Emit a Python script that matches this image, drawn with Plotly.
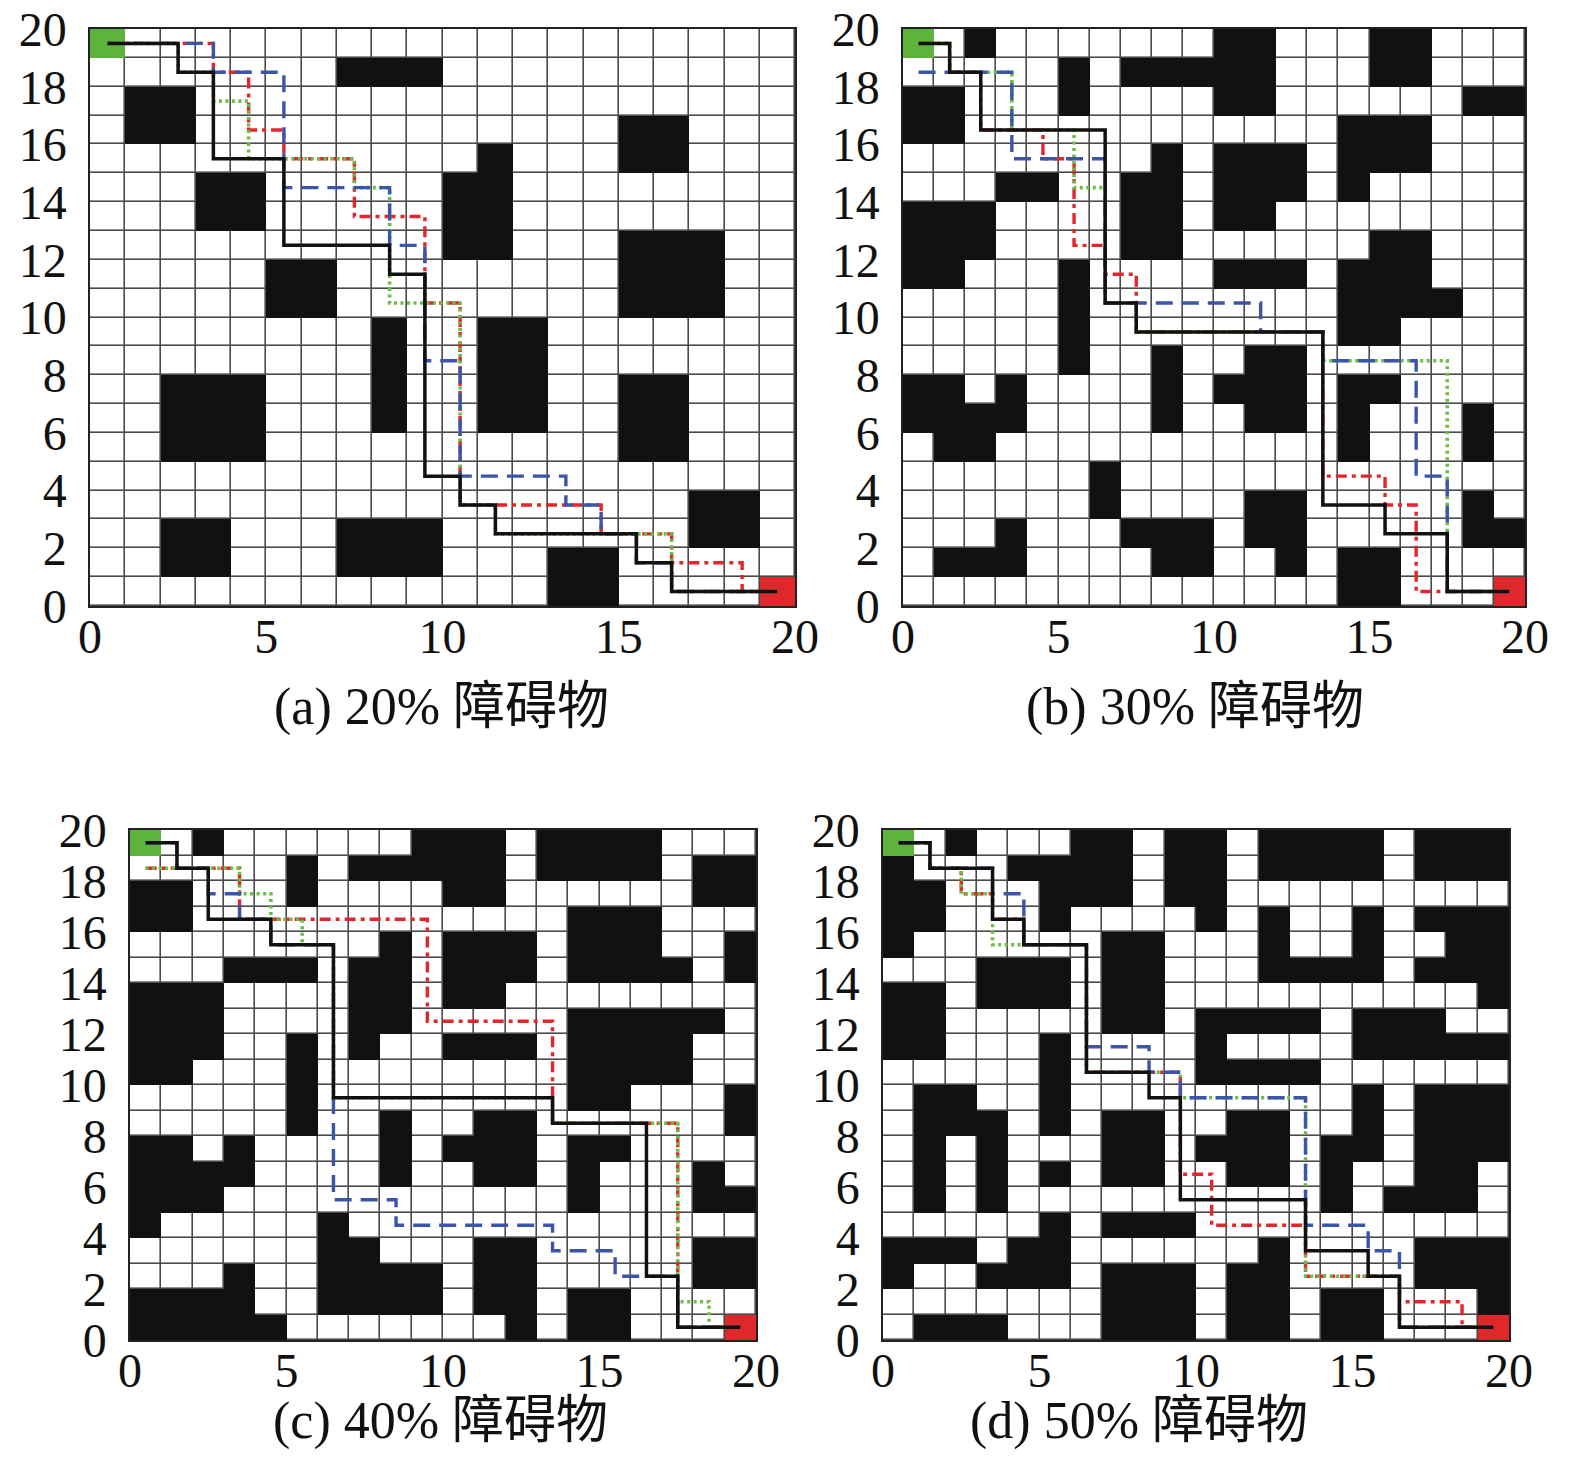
import plotly.graph_objects as go

# ---------------- data ----------------
# obstacle maps, top row (y = 19) first; '#' obstacle, 'S' start, 'G' goal
map_a = [
    "S...................",
    ".......###..........",
    ".##.................",
    ".##............##...",
    "...........#...##...",
    "...##.....##........",
    "...##.....##........",
    "..........##...###..",
    ".....##........###..",
    ".....##........###..",
    "........#..##.......",
    "........#..##.......",
    "..###...#..##..##...",
    "..###...#..##..##...",
    "..###..........##...",
    "....................",
    ".................##.",
    "..##...###.......##.",
    "..##...###...##.....",
    ".............##....G",
]
map_b = [
    "S.#.......##...##...",
    ".....#.#####...##...",
    "##...#....##......##",
    "##............###...",
    "........#.###.###...",
    "...##..##.###.#.....",
    "###....##.##........",
    "###....##......##...",
    "##...#....###.###...",
    ".....#........####..",
    ".....#........##....",
    ".....#..#..##.......",
    "##.#....#.###.##....",
    "####....#..##.#...#.",
    ".##...........#...#.",
    "......#.............",
    "......#....##.....#.",
    "...#...###.##.....##",
    ".###....##..#.##....",
    "..............##...G",
]
map_c = [
    "S.#......###.####...",
    ".....#.#####.####.##",
    "##...#....##......##",
    "##............###...",
    "........#.###.###..#",
    "...###.##.###.####.#",
    "###....##.##........",
    "###....##.....#####.",
    "###..#.#..###.####..",
    "##...#........####..",
    ".....#........##...#",
    ".....#..#..##......#",
    "##.#....#.###.##....",
    "####....#..##.#...#.",
    "###...........#...##",
    "#.....#.............",
    "......##...##.....##",
    "...#..####.##.....##",
    "####..####.##.##....",
    "#####.......#.##...G",
]
map_d = [
    "S.#...##.##.####.###",
    "#...####.##.####.###",
    "##...###.##.........",
    "##...#....#.#..#.###",
    "#......##...#..#..##",
    "...###.##...####.###",
    "##.###.##..........#",
    "##.....##.####.###..",
    "##...#....#....#####",
    ".....#....####......",
    ".##..#.........#.###",
    ".###.#.##..##..#.###",
    ".#.#...##.###.##.###",
    ".#.#.#.##..##.#..##.",
    ".#.#..........#.###.",
    ".....#.###..........",
    "###.##......#....###",
    "#..###.###.##....###",
    ".......###.##.##...#",
    ".###...###.##.##...G",
]

# path waypoints as (column, row) cell indices
black_a = [(0,19),(2,19),(2,18),(3,18),(3,15),(5,15),(5,12),(8,12),(8,11),(9,11),(9,4),(10,4),(10,3),(11,3),(11,2),(15,2),(15,1),(16,1),(16,0),(19,0)]
blue_a  = [(0,19),(3,19),(3,18),(5,18),(5,14),(8,14),(8,12),(9,12),(9,8),(10,8),(10,4),(13,4),(13,3),(14,3),(14,2),(15,2),(15,1),(16,1),(16,0),(19,0)]
red_a   = [(0,19),(3,19),(3,18),(4,18),(4,16),(5,16),(5,15),(7,15),(7,13),(9,13),(9,10),(10,10),(10,3),(14,3),(14,2),(16,2),(16,1),(18,1),(18,0),(19,0)]
green_a = [(0,19),(2,19),(2,18),(3,18),(3,17),(4,17),(4,15),(7,15),(7,14),(8,14),(8,10),(10,10),(10,3),(11,3),(11,2),(16,2),(16,0),(19,0)]

black_b = [(0,19),(1,19),(1,18),(2,18),(2,16),(6,16),(6,10),(7,10),(7,9),(13,9),(13,3),(15,3),(15,2),(17,2),(17,0),(19,0)]
blue_b  = [(0,18),(3,18),(3,15),(6,15),(6,10),(11,10),(11,9),(13,9),(13,8),(16,8),(16,4),(17,4),(17,0),(19,0)]
red_b   = [(0,19),(1,19),(1,18),(2,18),(2,16),(4,16),(4,15),(5,15),(5,12),(6,12),(6,11),(7,11),(7,9),(13,9),(13,4),(15,4),(15,3),(16,3),(16,0),(19,0)]
green_b = [(0,19),(1,19),(1,18),(3,18),(3,16),(5,16),(5,14),(6,14),(6,10),(7,10),(7,9),(13,9),(13,8),(17,8),(17,0),(19,0)]

black_c = [(0,19),(1,19),(1,18),(2,18),(2,16),(4,16),(4,15),(6,15),(6,9),(13,9),(13,8),(16,8),(16,2),(17,2),(17,0),(19,0)]
blue_c  = [(0,19),(1,19),(1,18),(2,18),(2,17),(3,17),(3,16),(4,16),(4,15),(6,15),(6,5),(8,5),(8,4),(13,4),(13,3),(15,3),(15,2),(17,2),(17,0),(19,0)]
red_c   = [(0,18),(3,18),(3,16),(9,16),(9,12),(13,12),(13,8),(17,8),(17,0),(19,0)]
green_c = [(0,18),(3,18),(3,17),(4,17),(4,16),(5,16),(5,15),(6,15),(6,9),(13,9),(13,8),(17,8),(17,1),(18,1),(18,0),(19,0)]

black_d = [(0,19),(1,19),(1,18),(3,18),(3,16),(4,16),(4,15),(6,15),(6,10),(8,10),(8,9),(9,9),(9,5),(13,5),(13,3),(15,3),(15,2),(16,2),(16,0),(19,0)]
blue_d  = [(0,19),(1,19),(1,18),(3,18),(3,17),(4,17),(4,15),(6,15),(6,11),(8,11),(8,10),(9,10),(9,9),(13,9),(13,4),(15,4),(15,3),(16,3),(16,0),(19,0)]
red_d   = [(0,19),(1,19),(1,18),(2,18),(2,17),(3,17),(3,16),(4,16),(4,15),(6,15),(6,10),(9,10),(9,6),(10,6),(10,4),(13,4),(13,2),(16,2),(16,1),(18,1),(18,0),(19,0)]
green_d = [(0,19),(1,19),(1,18),(2,18),(2,17),(3,17),(3,15),(4,15),(6,15),(6,10),(9,10),(9,9),(13,9),(13,2),(16,2),(16,0),(19,0)]

captions = ["(a) 20% 障碍物", "(b) 30% 障碍物", "(c) 40% 障碍物", "(d) 50% 障碍物"]
x_ticks = [0, 5, 10, 15, 20]
y_ticks = [0, 2, 4, 6, 8, 10, 12, 14, 16, 18, 20]

# ---------------- styling ----------------
W, H = 1575, 1464
BLACK = "#111111"
GREEN_CELL = "#5db33b"
RED_CELL = "#e0282c"
BLUE = "#3b55a8"
RED = "#e2262b"
GREEN = "#6cbd45"
GRIDC = "#4a4a4a"
FONT = "'Liberation Serif', 'Times New Roman', 'Noto Sans CJK SC', serif"

# pixel boxes of each panel: (left, right, top, bottom)
boxes = [(90, 795, 29, 606), (903, 1525, 29, 606), (130, 756, 830, 1340), (883, 1509, 830, 1340)]
cap_pos = [(441, 707), (1195, 707), (440, 1421), (1139, 1421)]

maps = [map_a, map_b, map_c, map_d]
paths = [
    (black_a, blue_a, red_a, green_a),
    (black_b, blue_b, red_b, green_b),
    (black_c, blue_c, red_c, green_c),
    (black_d, blue_d, red_d, green_d),
]

fig = go.Figure()
centers = [i + 0.5 for i in range(20)]
code = {"#": 1, "S": 2, "G": 3}

for k in range(4):
    xa = "x" if k == 0 else f"x{k+1}"
    ya = "y" if k == 0 else f"y{k+1}"
    rows = list(reversed(maps[k]))  # bottom row first
    # white free cells with gaps -> grid lines
    fig.add_trace(go.Heatmap(
        x=centers, y=centers, z=[[0] * 20 for _ in range(20)],
        colorscale=[[0, "white"], [1, "white"]], showscale=False,
        xgap=1.6, ygap=1.6, hoverinfo="skip", xaxis=xa, yaxis=ya))
    # obstacles / start / goal (solid)
    z = [[code.get(ch, None) for ch in row] for row in rows]
    fig.add_trace(go.Heatmap(
        x=centers, y=centers, z=z, zmin=1, zmax=3,
        colorscale=[[0, BLACK], [0.333, BLACK], [0.334, GREEN_CELL], [0.666, GREEN_CELL],
                    [0.667, RED_CELL], [1, RED_CELL]],
        showscale=False, hoverinfo="skip", xaxis=xa, yaxis=ya))
    blk, blu, red, grn = paths[k]
    for pts, color, dash, width in [
        (red, RED, "11px,5px,4px,5px", 3.4),
        (grn, GREEN, "3px,3.5px", 3.6),
        (blu, BLUE, "17px,9px", 3.4),
        (blk, BLACK, "solid", 3.5),
    ]:
        fig.add_trace(go.Scatter(
            x=[p[0] + 0.5 for p in pts], y=[p[1] + 0.5 for p in pts],
            mode="lines", line=dict(color=color, width=width, dash=dash),
            hoverinfo="skip", showlegend=False, xaxis=xa, yaxis=ya))

layout = dict(
    width=W, height=H, autosize=False,
    margin=dict(l=0, r=0, t=0, b=0, autoexpand=False),
    paper_bgcolor="white", plot_bgcolor=GRIDC,
    showlegend=False,
    font=dict(family=FONT, color="#111111"),
)
for k in range(4):
    l, r, t, b = boxes[k]
    xs = "xaxis" if k == 0 else f"xaxis{k+1}"
    ys = "yaxis" if k == 0 else f"yaxis{k+1}"
    ya_name = "y" if k == 0 else f"y{k+1}"
    xa_name = "x" if k == 0 else f"x{k+1}"
    layout[xs] = dict(
        domain=[l / W, r / W], range=[0, 20], anchor=ya_name, automargin=False,
        tickvals=x_ticks, ticktext=[str(v) for v in x_ticks],
        showgrid=False, zeroline=False, showline=True, mirror=True,
        linecolor="#222222", linewidth=1.5, ticks="",
        tickfont=dict(family=FONT, size=48, color="#111111"),
        ticklabelstandoff=-12, fixedrange=True)
    layout[ys] = dict(
        domain=[1 - b / H, 1 - t / H], range=[0, 20], anchor=xa_name, automargin=False,
        tickvals=y_ticks, ticktext=[str(v) for v in y_ticks],
        showgrid=False, zeroline=False, showline=True, mirror=True,
        linecolor="#222222", linewidth=1.5, ticks="",
        tickfont=dict(family=FONT, size=48, color="#111111"),
        ticklabelstandoff=12, fixedrange=True)
fig.update_layout(**layout)

for k in range(4):
    cx, cy = cap_pos[k]
    fig.add_annotation(
        text=captions[k], xref="paper", yref="paper",
        x=cx / W, y=1 - cy / H, xanchor="center", yanchor="middle",
        showarrow=False, font=dict(family=FONT, size=52, color="#111111"))

fig.write_html("out.html", config={"displayModeBar": False},
               post_script="document.body.style.margin='0px';")
